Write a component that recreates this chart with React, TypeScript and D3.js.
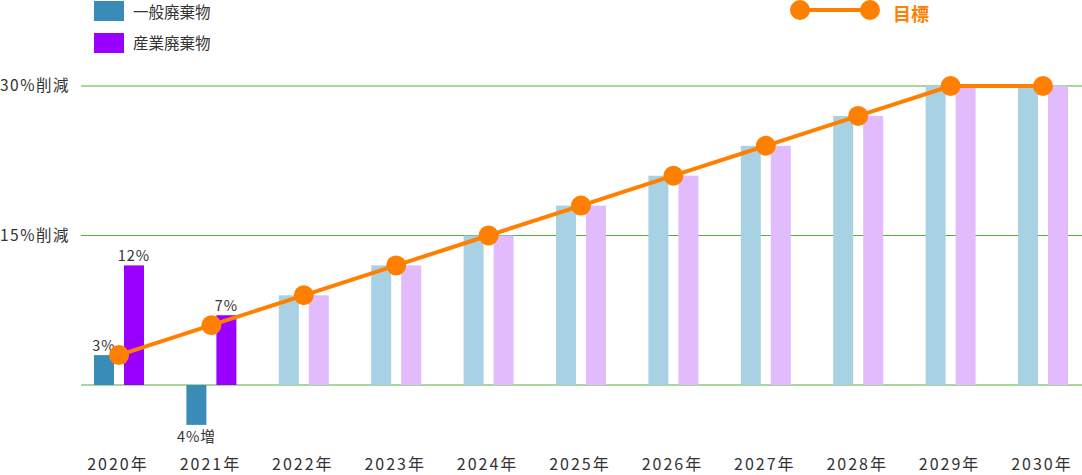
import React from "react";
import * as d3 from "d3";

const years = ["2020年","2021年","2022年","2023年","2024年","2025年","2026年","2027年","2028年","2029年","2030年"];
const general = [3, -4, 9, 12, 15, 18, 21, 24, 27, 30, 30];
const industrial = [12, 7, 9, 12, 15, 18, 21, 24, 27, 30, 30];
const target = [3, 6, 9, 12, 15, 18, 21, 24, 27, 30, 30];
const yTicks = [0, 15, 30];
const yTickLabels = ["", "15%削減", "30%削減"];
const actualCount = 2;
const barLabels = [
  { i: 0, series: "general", text: "3%" },
  { i: 0, series: "industrial", text: "12%" },
  { i: 1, series: "industrial", text: "7%" },
  { i: 1, series: "general", text: "4%増" },
];

const W = 1082, H = 475;
const FONT = "'Noto Sans CJK JP', 'Noto Sans', sans-serif";
const TEXT = "#333";
const ORANGE = "#ff8000";

export default function App() {
  const x = d3.scalePoint<string>().domain(years).range([119, 1043]);
  const y = d3.scaleLinear().domain([0, 30]).range([385, 86]);
  const bw = 20, gap = 5;
  const line = d3.line<number>().x((_, i) => x(years[i])!).y((d) => y(d));
  const colG = (i: number) => (i < actualCount ? "#3a8cb8" : "#a8d2e4");
  const colI = (i: number) => (i < actualCount ? "#9900ff" : "#e2bbfc");

  return (
    <svg width={W} height={H} style={{ position: "absolute", left: 0, top: 0 }} fontFamily={FONT}>
      {yTicks.map((t, k) => (
        <g key={t}>
          <line x1={81} x2={W} y1={y(t)} y2={y(t)} stroke="#55ad3a" strokeWidth={1} />
          {yTickLabels[k] && (
            <text x={0} y={y(t)} dy="0.35em" fontSize={15.5} fill={TEXT} letterSpacing={1.5}>{yTickLabels[k]}</text>
          )}
        </g>
      ))}
      {years.map((yr, i) => {
        const c = x(yr)!;
        const g = general[i], ind = industrial[i];
        return (
          <g key={yr}>
            <rect x={c - gap - bw} width={bw} y={Math.min(y(g), y(0))} height={Math.abs(y(g) - y(0))} fill={colG(i)} />
            <rect x={c + gap} width={bw} y={Math.min(y(ind), y(0))} height={Math.abs(y(ind) - y(0))} fill={colI(i)} />
            <text x={c - 1} y={470} textAnchor="middle" fontSize={16} fill={TEXT} letterSpacing={2}>{yr}</text>
          </g>
        );
      })}
      {barLabels.map((l, k) => {
        const c = x(years[l.i])!;
        const v = l.series === "general" ? general[l.i] : industrial[l.i];
        const cx = l.series === "general" ? c - gap - bw / 2 : c + gap + bw / 2;
        const ty = v >= 0 ? y(v) - 4 : y(v) + 17;
        return (
          <text key={k} x={cx} y={ty} textAnchor="middle" fontSize={14.5} fill={TEXT} letterSpacing={1}>{l.text}</text>
        );
      })}
      <path d={line(target)!} fill="none" stroke={ORANGE} strokeWidth={4} />
      {target.map((t, i) => (
        <circle key={i} cx={x(years[i])} cy={y(t)} r={10} fill={ORANGE} />
      ))}
      {/* legend */}
      <rect x={94} y={1} width={30} height={20} fill="#3a8cb8" />
      <text x={133} y={12.5} dy="0.35em" fontSize={15.5} fill={TEXT}>一般廃棄物</text>
      <rect x={94} y={33} width={30} height={20} fill="#9900ff" />
      <text x={133} y={44} dy="0.35em" fontSize={15.5} fill={TEXT}>産業廃棄物</text>
      <line x1={800} x2={870} y1={10} y2={10} stroke={ORANGE} strokeWidth={4} />
      <circle cx={800} cy={10} r={10} fill={ORANGE} />
      <circle cx={870} cy={10} r={10} fill={ORANGE} />
      <text x={893} y={21} fontSize={18} fontWeight="bold" fill={ORANGE}>目標</text>
    </svg>
  );
}
